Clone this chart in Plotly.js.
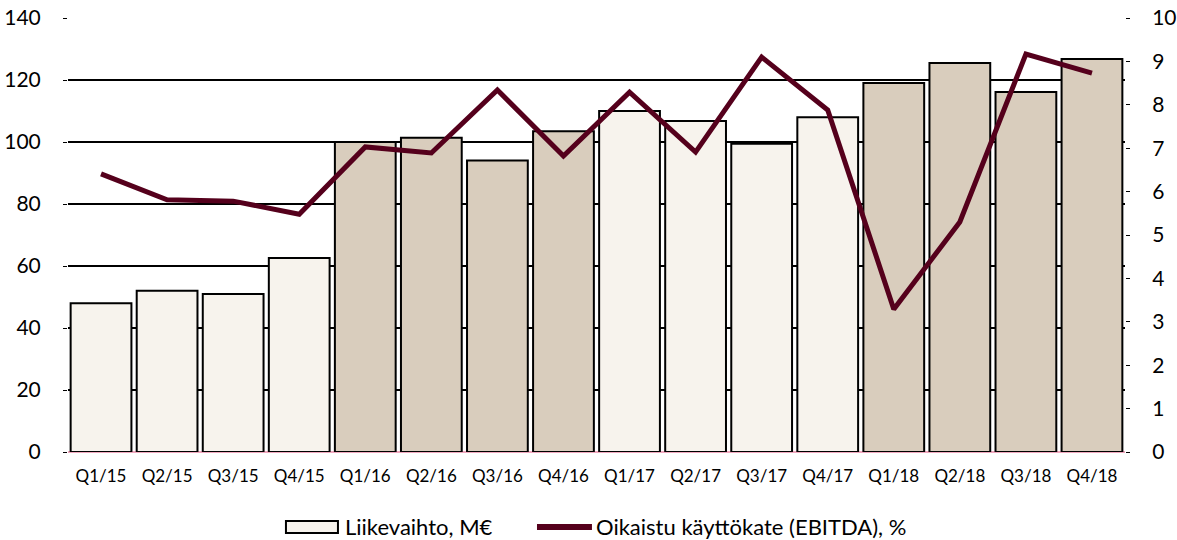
<!DOCTYPE html>
<html><head><meta charset="utf-8">
<script src="https://cdn.plot.ly/plotly-3.0.1.min.js"></script>
<style>body{margin:0;background:#fff}#chart{width:1177px;height:540px}</style>
</head><body><div id="chart"></div>
<script>
const categories = ["Q1/15","Q2/15","Q3/15","Q4/15","Q1/16","Q2/16","Q3/16","Q4/16","Q1/17","Q2/17","Q3/17","Q4/17","Q1/18","Q2/18","Q3/18","Q4/18"];
const revenue = [48, 52, 51, 62.6, 100, 101.4, 94, 103.5, 110, 106.8, 99.4, 108, 119, 125.5, 116.1, 126.8];
const ebitdaPct = [6.41, 5.81, 5.78, 5.48, 7.03, 6.89, 8.34, 6.82, 8.29, 6.91, 9.10, 7.88, 3.29, 5.30, 9.17, 8.73];
const seriesNames = ["Liikevaihto, M€", "Oikaistu käyttökate (EBITDA), %"];
const yearColors = {"15":"#F7F3ED","16":"#D9CDBD","17":"#F7F3ED","18":"#D9CDBD"};
const barColors = categories.map(c => yearColors[c.slice(-2)]);
const lineColor = "#55001C";

const font = "Lato, 'Open Sans', sans-serif";
const data = [
  {type:"bar", x:categories, y:revenue, name:seriesNames[0],
   marker:{color:barColors, line:{color:"#000", width:2}}, yaxis:"y"},
  {type:"scatter", mode:"lines", x:categories, y:ebitdaPct, name:seriesNames[1],
   line:{color:lineColor, width:5}, yaxis:"y2"}
];
// manual legend (wide rectangle swatch like the original)
const legY = -0.1728;
const shapes = [
  {type:"rect", xref:"paper", yref:"paper", x0:0.2062, x1:0.2554, y0:-0.159, y1:-0.1866,
   fillcolor:"#F7F3ED", line:{color:"#000", width:2}},
  {type:"line", xref:"paper", yref:"paper", x0:0.4437, x1:0.4957, y0:legY, y1:legY,
   line:{color:lineColor, width:6}}
];
const annotations = [
  {xref:"paper", yref:"paper", x:0.2600, y:legY, xanchor:"left", yanchor:"middle", showarrow:false,
   text:seriesNames[0], font:{size:22, family:font, color:"#000"}},
  {xref:"paper", yref:"paper", x:0.4980, y:legY, xanchor:"left", yanchor:"middle", showarrow:false,
   text:seriesNames[1], font:{size:22, family:font, color:"#000"}}
];
const layout = {
  width:1177, height:540,
  margin:{l:68, r:52, t:18, b:88},
  paper_bgcolor:"#fff", plot_bgcolor:"#fff",
  bargap:0.08,
  font:{family:font, color:"#000"},
  showlegend:false,
  shapes, annotations,
  xaxis:{type:"category", tickfont:{size:17}, showgrid:false, showline:false, ticks:"", ticklabelstandoff:12},
  yaxis:{range:[0,140], dtick:20, showgrid:true, gridcolor:"#000", gridwidth:2,
         zeroline:true, zerolinecolor:"#F0A8BE", zerolinewidth:2,
         tickfont:{size:21}, ticks:"outside", ticklen:4, tickcolor:"#000", ticklabelstandoff:18, showline:false},
  yaxis2:{range:[0,10], dtick:1, overlaying:"y", side:"right", showgrid:false, zeroline:false,
          tickfont:{size:21}, ticks:"outside", ticklen:4, tickcolor:"#000", ticklabelstandoff:18, showline:false}
};
Plotly.newPlot("chart", data, layout, {displayModeBar:false, staticPlot:true});
</script></body></html>
